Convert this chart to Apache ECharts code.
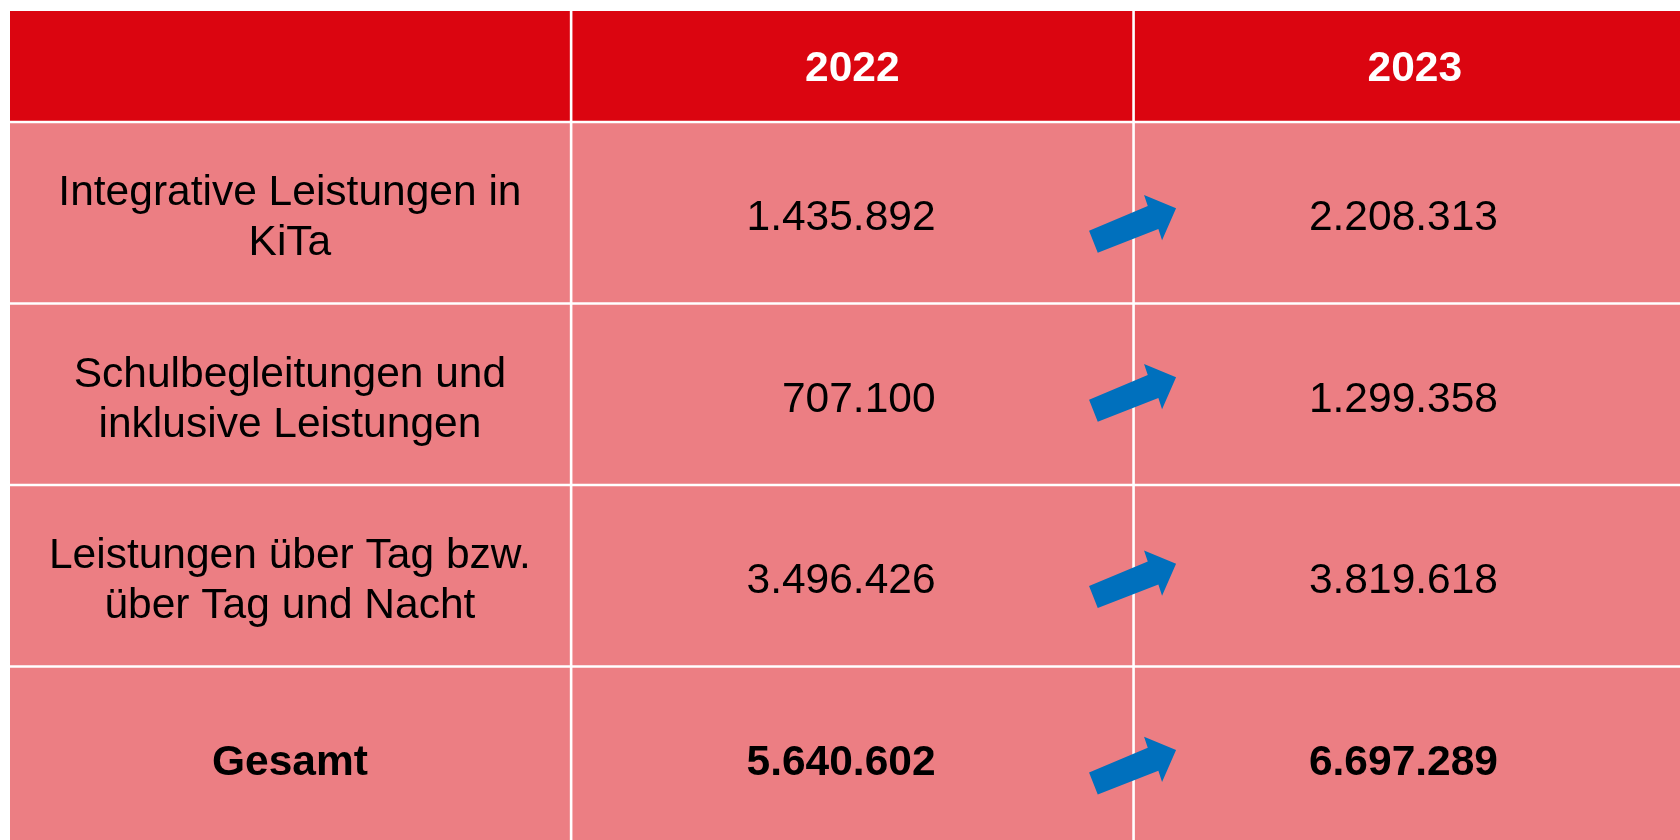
<!DOCTYPE html>
<html><head><meta charset="utf-8">
<style>html,body{margin:0;padding:0;background:#fff;}#chart{width:1680px;height:840px;}</style>
<script src="https://cdn.jsdelivr.net/npm/echarts@6/dist/echarts.min.js"></script>
</head><body><div id="chart"></div>
<script>
// ---- data ----
const years = ['2022', '2023'];
const categories = [
  'Integrative Leistungen in\nKiTa',
  'Schulbegleitungen und\ninklusive Leistungen',
  'Leistungen über Tag bzw.\nüber Tag und Nacht',
  'Gesamt'
];
const values2022 = [1435892, 707100, 3496426, 5640602];
const values2023 = [2208313, 1299358, 3819618, 6697289];
const boldRows = [false, false, false, true];

// ---- layout / style ----
const HEADER_UNITS = 0.6187;      // header height relative to a body row
const GAP = 1.3;                  // half of the white separator
const FONT = '"Liberation Sans", Arial, sans-serif';
const FONT_SIZE = 42.5;
const NUM_PAD_RIGHT = 198;
const RED = '#DB0510';
const PINK = '#EC7E83';
const BLUE = '#0070BD';
const TEXT_DY_HEADER = 3;
const TEXT_DY_BODY = 6;
const arrowTipDx = 42.5;
const arrowTipDy = [-4.45, -16.95, -12.05, -7.25];
const arrowShape = [[-87, 22.4], [-28.3, -2.3], [-32, -13.3], [0, 0], [-14, 32], [-17.7, 20.7], [-78.3, 44.4]];

function fmt(n) { return String(n).replace(/\B(?=(\d{3})+(?!\d))/g, '.'); }

// build cells from data arrays
const cells = [];
cells.push({ col: 0, row: -1, text: '' });
years.forEach((y, j) => cells.push({ col: j + 1, row: -1, text: y }));
categories.forEach((c, i) => {
  cells.push({ col: 0, row: i, text: c, bold: boldRows[i] });
  cells.push({ col: 1, row: i, text: fmt(values2022[i]), bold: boldRows[i], num: true });
  cells.push({ col: 2, row: i, text: fmt(values2023[i]), bold: boldRows[i], num: true });
});

function renderCell(params, api) {
  const c = cells[params.dataIndex];
  const top = c.row < 0 ? -HEADER_UNITS : c.row;
  const bottom = c.row < 0 ? 0 : c.row + 1;
  const p0 = api.coord([c.col, top]);
  const p1 = api.coord([c.col + 1, bottom]);
  const x = p0[0] + GAP, y = p0[1] + GAP;
  const w = p1[0] - p0[0] - 2 * GAP, h = p1[1] - p0[1] - 2 * GAP;
  const header = c.row < 0;
  const children = [{
    type: 'rect', shape: { x: x, y: y, width: w, height: h },
    style: { fill: header ? RED : PINK }
  }];
  if (c.text) {
    const cy = (p0[1] + p1[1]) / 2;
    children.push({
      type: 'text',
      style: {
        text: c.text,
        x: c.num ? p1[0] - NUM_PAD_RIGHT : (p0[0] + p1[0]) / 2,
        y: cy + (header ? TEXT_DY_HEADER : TEXT_DY_BODY),
        align: c.num ? 'right' : 'center',
        verticalAlign: 'middle',
        fill: header ? '#FFFFFF' : '#000000',
        fontFamily: FONT,
        fontSize: FONT_SIZE,
        fontWeight: (header || c.bold) ? 'bold' : 'normal',
        lineHeight: 50
      }
    });
  }
  return { type: 'group', children: children };
}

function renderArrow(params, api) {
  const i = params.dataIndex;
  if (!(values2023[i] > values2022[i])) return null;
  const a = api.coord([api.value(0), api.value(1)]);
  const tx = a[0] + arrowTipDx, ty = a[1] + arrowTipDy[i];
  return {
    type: 'polygon',
    shape: { points: arrowShape.map(p => [tx + p[0], ty + p[1]]) },
    style: { fill: BLUE }
  };
}

const chart = echarts.init(document.getElementById('chart'), null, { renderer: 'canvas' });
chart.setOption({
  backgroundColor: '#FFFFFF',
  animation: false,
  grid: {
    left: 8.7, top: 9.7, width: 562.43 * 3, height: 181.5 * (4 + HEADER_UNITS),
    outerBoundsMode: 'none', containLabel: false
  },
  xAxis: { type: 'value', min: 0, max: 3, show: false },
  yAxis: { type: 'value', min: -HEADER_UNITS, max: 4, inverse: true, show: false },
  series: [
    {
      type: 'custom', clip: false, silent: true,
      renderItem: renderCell,
      data: cells.map(c => [c.col, c.row])
    },
    {
      type: 'custom', clip: false, silent: true, z: 5,
      renderItem: renderArrow,
      data: categories.map((_, i) => [2, i + 0.5])
    }
  ]
});
</script>
</body></html>
